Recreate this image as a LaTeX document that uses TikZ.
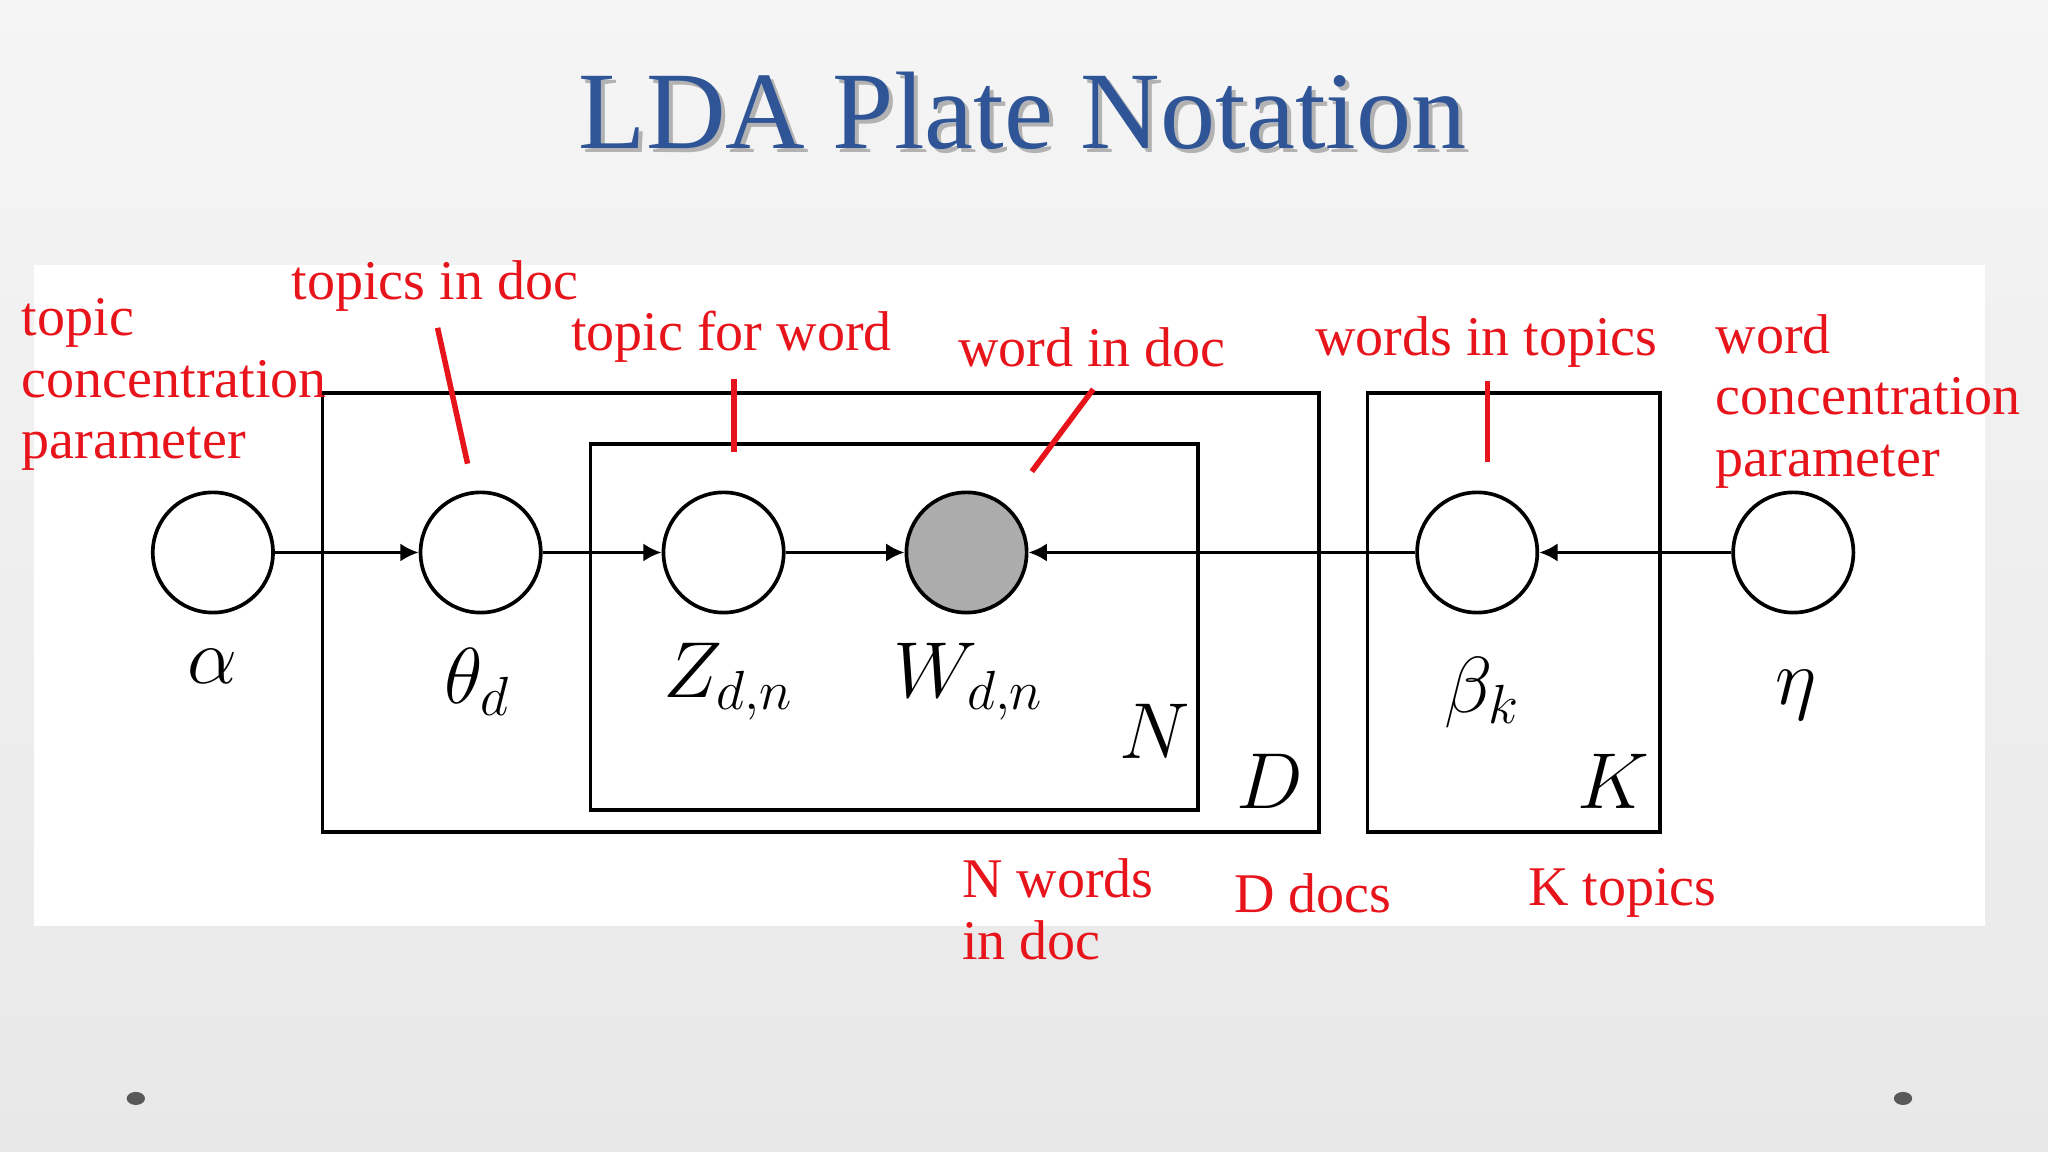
\documentclass[tikz,border=0pt]{standalone}
\usepackage{fontspec}
\setmainfont{Liberation Serif}
\usetikzlibrary{arrows.meta}
\definecolor{titleblue}{HTML}{2F5597}
\definecolor{lred}{HTML}{E8141B}
\tikzset{
  var/.style={circle,draw,thick,minimum size=0.92cm,inner sep=0pt},
  obs/.style={var,fill=gray!65},
  plate/.style={draw,thick},
  edge/.style={thick,-{Latex[length=4pt,width=4pt]}},
  mlab/.style={font=\fontsize{17}{17}\selectfont},
  rlab/.style={text=lred,font=\fontsize{12.2}{13.4}\selectfont,inner sep=0pt},
  rline/.style={lred,line width=1.2pt}
}
\begin{document}
\begin{tikzpicture}[x=0.01cm,y=-0.01cm]
\useasboundingbox (0,0) rectangle (1568,882);
\shade[top color=gray!8,bottom color=gray!18] (0,0) rectangle (1568,882);
\fill[white] (26,203) rectangle (1520,709);
\node[text=black!30,font=\fontsize{24}{24}\selectfont] at (786,88) {LDA Plate Notation};
\node[text=titleblue,font=\fontsize{24}{24}\selectfont] (title) at (783,85) {LDA Plate Notation};
% plates
\draw[plate] (247,301) rectangle (1010,637);
\draw[plate] (452,340) rectangle (917,620);
\draw[plate] (1047,301) rectangle (1271,637);
% nodes
\node[var] (a) at (163,423) {};
\node[var] (t) at (368,423) {};
\node[var] (z) at (554,423) {};
\node[obs] (w) at (740,423) {};
\node[var] (b) at (1131,423) {};
\node[var] (e) at (1373,423) {};
\draw[edge] (a) -- (t);
\draw[edge] (t) -- (z);
\draw[edge] (z) -- (w);
\draw[edge] (b) -- (w);
\draw[edge] (e) -- (b);
% math labels
\node[mlab] (la) at (163,510) {$\alpha$};
\node[mlab] (lt) at (366,522) {$\theta_d$};
\node[mlab] (lz) at (558,522) {$Z_{d,n}$};
\node[mlab] (lw) at (742,522) {$W_{d,n}$};
\node[mlab] (lN) at (884,560) {$N$};
\node[mlab] (lD) at (972,598) {$D$};
\node[mlab] (lb) at (1135,530) {$\beta_k$};
\node[mlab] (lK) at (1235,598) {$K$};
\node[mlab] (le) at (1375,532) {$\eta$};
% red labels
\node[rlab,anchor=north west,align=left] (r1) at (16,228) {topic\\concentration\\parameter};
\node[rlab] (r2) at (333,219) {topics in doc};
\node[rlab] (r3) at (560,258) {topic for word};
\node[rlab] (r4) at (836,266) {word in doc};
\node[rlab] (r5) at (1138,262) {words in topics};
\node[rlab,anchor=north west,align=left] (r6) at (1313,240) {word\\concentration\\parameter};
\node[rlab,anchor=north west,align=left] (r7) at (736,657) {N words\\in doc};
\node[rlab] (r8) at (1005,684) {D docs};
\node[rlab] (r9) at (1242,684) {K topics};
\draw[rline] (335,251) -- (358,355);
\draw[rline] (562,290) -- (562,346);
\draw[rline] (837,298) -- (790,361);
\draw[rline] (1139,292) -- (1139,354);
% dots
\fill[gray!70!black] (104,841) ellipse (7 and 5);
\fill[gray!70!black] (1457,841) ellipse (7 and 5);
\end{tikzpicture}
\end{document}
